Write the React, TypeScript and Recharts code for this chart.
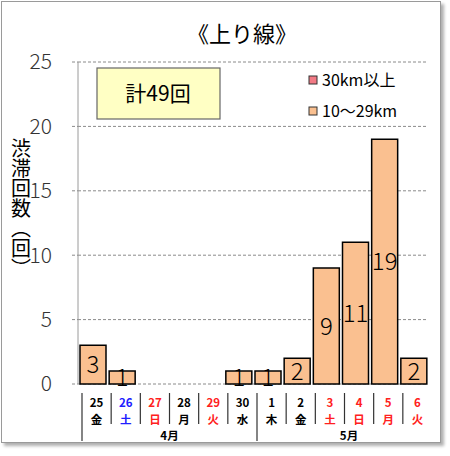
import React from "react";
import {
  BarChart,
  Bar,
  XAxis,
  YAxis,
  CartesianGrid,
  LabelList,
} from "recharts";

const days = ["25", "26", "27", "28", "29", "30", "1", "2", "3", "4", "5", "6"];
const weekdays = ["金", "土", "日", "月", "火", "水", "木", "金", "土", "日", "月", "火"];
const dayColors = [
  "#000", "#2020ff", "#ff2020", "#000", "#ff2020", "#000",
  "#000", "#000", "#ff2020", "#ff2020", "#ff2020", "#ff2020",
];
const months = ["4月", "5月"];
const monthStart = [0, 6];

const over30 = [0, 0, 0, 0, 0, 0, 0, 0, 0, 0, 0, 0];
const km10to29 = [3, 1, 0, 0, 0, 1, 1, 2, 9, 11, 19, 2];

const seriesNames = ["30km以上", "10～29km"];
const seriesColors = ["#f27a85", "#fac090"];
const yTicks = [0, 5, 10, 15, 20, 25];

const title = "《上り線》";
const totalLabel = "計49回";
const yLabel = "渋滞回数（回）";

const data = days.map((d, i) => ({
  day: d,
  over30: over30[i],
  mid: km10to29[i],
}));

const JP = "'Noto Sans CJK JP', 'Noto Sans', sans-serif";
const W = 450;
const H = 456;
const PLOT_LEFT = 78;
const PLOT_RIGHT = 428;
const PLOT_BOTTOM = 384;
const BAND = (PLOT_RIGHT - PLOT_LEFT) / days.length;

function DayTick(props: any) {
  const { x, payload } = props;
  const i = payload.index;
  const cx = x + 4;
  const sepX = x - BAND / 2 + 4;
  const isGroupStart = monthStart.includes(i);
  const m = monthStart.indexOf(i);
  let monthX = 0;
  if (m === 0) monthX = sepX + (BAND * 6) / 2;
  if (m === 1) monthX = sepX + 92;
  return (
    <g fontFamily={JP} fontWeight="bold" fontSize={11.5}>
      <line
        x1={sepX}
        x2={sepX}
        y1={PLOT_BOTTOM + 9}
        y2={PLOT_BOTTOM + (isGroupStart ? 57 : 40)}
        stroke="#333"
        strokeWidth={1.2}
      />
      <text x={cx} y={PLOT_BOTTOM + 23} textAnchor="middle" fill={dayColors[i]}>
        {days[i]}
      </text>
      <text x={cx} y={PLOT_BOTTOM + 40} textAnchor="middle" fill={dayColors[i]}>
        {weekdays[i]}
      </text>
      {m >= 0 && (
        <text x={monthX} y={PLOT_BOTTOM + 56} textAnchor="middle" fill="#000">
          {months[m]}
        </text>
      )}
    </g>
  );
}

const hideZero = (v: any) => (Number(v) === 0 ? "" : v);

export default function App() {
  return (
    <div style={{ position: "absolute", left: 0, top: 0, width: W, height: H, background: "#fff" }}>
      <div
        style={{
          position: "absolute",
          left: 1,
          top: 1,
          width: 438,
          height: 440,
          border: "1px solid #9a9a9a",
          boxShadow: "3px 3px 3px #b0b0b0",
          background: "#fff",
        }}
      />
      <div style={{ position: "absolute", left: 0, top: 0 }}>
        <BarChart
          width={W}
          height={H}
          data={data}
          margin={{ top: 62, right: W - PLOT_RIGHT, bottom: 0, left: PLOT_LEFT - 40 }}
          barSize={26}
        >
          <CartesianGrid vertical={false} stroke="#8a8a8a" strokeDasharray="3 2" />
          <XAxis
            dataKey="day"
            interval={0}
            height={H - 62 - (PLOT_BOTTOM - 62)}
            axisLine={false}
            tickLine={false}
            tick={<DayTick />}
          />
          <YAxis
            width={40}
            domain={[0, 25]}
            ticks={yTicks}
            interval={0}
            axisLine={{ stroke: "#9a9a9a" }}
            tickLine={{ stroke: "#8a8a8a", strokeDasharray: "3 2" }}
            tickSize={6}
            tickMargin={20}
            tick={{ fill: "#333", fontSize: 21, fontFamily: JP, fontWeight: 300 }}
          />
          <Bar
            dataKey="mid"
            stackId="a"
            fill={seriesColors[1]}
            stroke="#000"
            strokeWidth={1.5}
            isAnimationActive={false}
          >
            <LabelList
              dataKey="mid"
              position="center"
              formatter={hideZero}
              fill="#000"
              fontSize={24}
              fontFamily={JP}
              fontWeight={300}
            />
          </Bar>
          <Bar
            dataKey="over30"
            stackId="a"
            fill={seriesColors[0]}
            stroke="#000"
            strokeWidth={1.5}
            isAnimationActive={false}
          />
        </BarChart>
      </div>
      <svg
        width={W}
        height={H}
        style={{ position: "absolute", left: 0, top: 0, pointerEvents: "none" }}
        fontFamily={JP}
      >
        <text x={242} y={42} textAnchor="middle" fontSize={22} fill="#000">
          {title}
        </text>
        <rect x={97} y={68} width={123} height={51} fill="#ffffc4" stroke="#666" strokeWidth={1.2} />
        <text x={158} y={101} textAnchor="middle" fontSize={21} fill="#000">
          {totalLabel}
        </text>
        {seriesNames.map((n, i) => (
          <g key={n}>
            <rect
              x={309}
              y={76 + i * 31}
              width={8}
              height={8}
              fill={seriesColors[i]}
              stroke="#333"
              strokeWidth={1}
            />
            <text x={322} y={86 + i * 31} fontSize={16} fill="#000">
              {n}
            </text>
          </g>
        ))}
        <text
          x={21}
          y={138}
          fontSize={20}
          fill="#000"
          style={{ writingMode: "vertical-rl" } as any}
        >
          {yLabel}
        </text>
      </svg>
    </div>
  );
}
